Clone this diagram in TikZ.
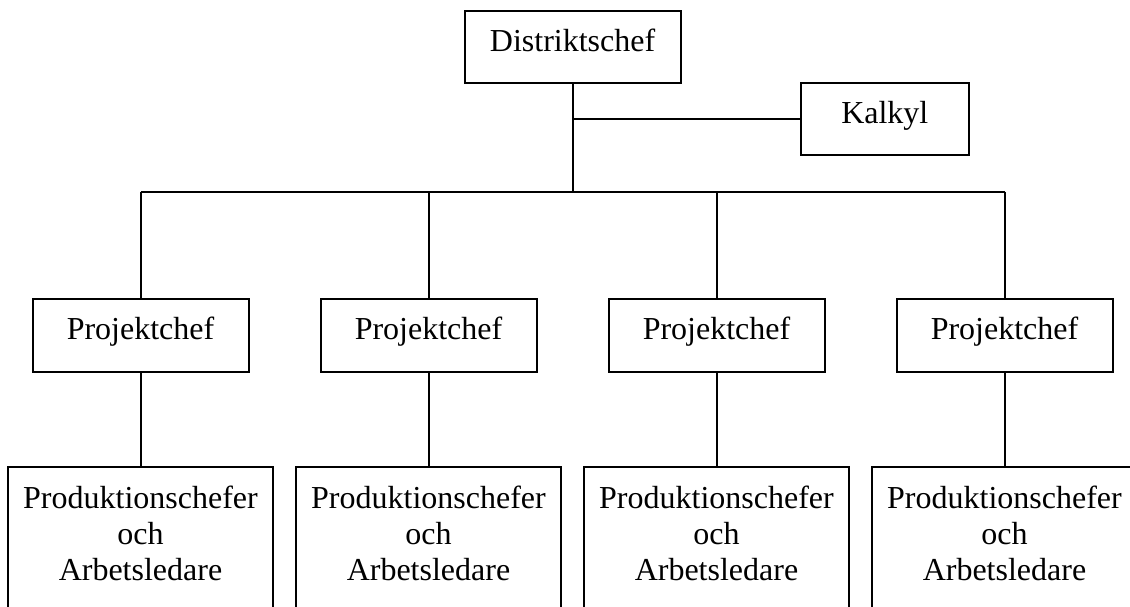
\documentclass[tikz,border=0pt]{standalone}
\usepackage{fontspec}
\setmainfont{Liberation Serif}
\begin{document}
\begin{tikzpicture}[x=1pt,y=-1pt,
  every node/.style={font=\fontsize{32}{36.3}\selectfont, inner sep=0pt, outer sep=0pt},
  box/.style={draw, line width=2pt, text height=19.5pt, text depth=11pt},
  topbox/.style={box, minimum width=216pt, minimum height=72pt},
  kbox/.style={box, minimum width=168pt, minimum height=72pt},
  pbox/.style={box, minimum width=216pt, minimum height=73pt},
  lbox/.style={draw, line width=2pt, minimum width=265pt, minimum height=190pt},
  ltext/.style={align=center, anchor=base},
  wire/.style={line width=2pt}
]
\useasboundingbox (0,0) rectangle (1130,607);
\clip (0,0) rectangle (1130,607);
\fill[white] (0,0) rectangle (1130,607);

% top level
\node[topbox] (d) at (572.6,47) {Distriktschef};
\node[kbox] (k) at (884.8,119.3) {Kalkyl};

% project chiefs
\node[pbox] (p1) at (140.5,335.5) {Projektchef};
\node[pbox] (p2) at (428.5,335.5) {Projektchef};
\node[pbox] (p3) at (716.5,335.5) {Projektchef};
\node[pbox] (p4) at (1004.5,335.5) {Projektchef};

% lower boxes (run off the bottom edge)
\node[lbox] (l1) at (140.5,562) {};
\node[lbox] (l2) at (428.5,562) {};
\node[lbox] (l3) at (716.5,562) {};
\node[lbox] (l4) at (1004.5,562) {};

\foreach \i/\x in {1/140.5,2/428.5,3/716.5,4/1004.5}{
  \node[ltext] (t\i) at (\x,508) {Produktionschefer};
  \node[ltext] (o\i) at (\x,544.3) {och};
  \node[ltext] (a\i) at (\x,580.6) {Arbetsledare};
}

% connectors
\coordinate (bus) at (d.south |- 0,191.5);
\coordinate (kj) at (d.south |- k.west);
\draw[wire] (d.south) -- (bus);
\draw[wire] (kj) -- (k.west);
\draw[wire] (p1.north |- bus) -- (p4.north |- bus);
\foreach \i in {1,2,3,4}{
  \draw[wire] (p\i.north |- bus) -- (p\i.north);
  \draw[wire] (p\i.south) -- (l\i.north);
}
\end{tikzpicture}
\end{document}
